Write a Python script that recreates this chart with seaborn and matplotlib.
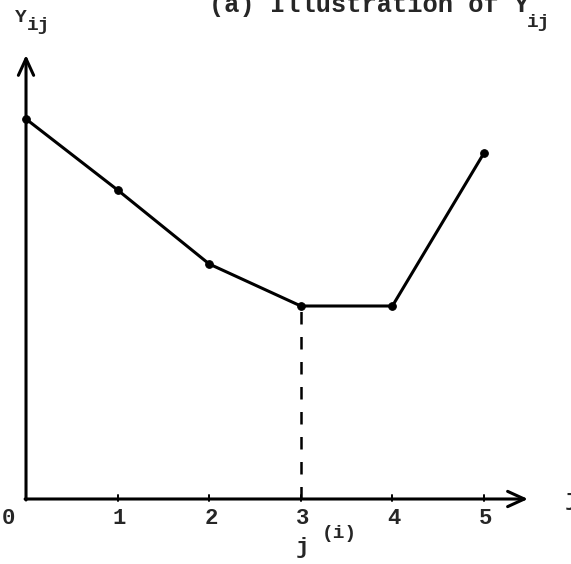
import matplotlib
matplotlib.use("Agg")
import matplotlib.pyplot as plt
import seaborn as sns
import pandas as pd

# Values of Y_ij over the index j
j_values = [0, 1, 2, 3, 4, 5]
y_values = [3.80, 3.09, 2.35, 1.93, 1.93, 3.46]
tick_labels = ["0", "1", "2", "3", "4", "5"]
j_star = 3  # index where the minimum is first attained

sns.set_style("white")
plt.rcParams["font.family"] = ["Liberation Mono", "DejaVu Sans Mono"]
plt.rcParams["font.weight"] = "bold"

fig = plt.figure(figsize=(5.71, 5.64), dpi=100)
ax = fig.add_axes([0, 0, 1, 1])
ax.set_xlim(-0.284, 5.95)
ax.set_ylim(-0.65, 4.99)
ax.axis("off")

df = pd.DataFrame({"j": j_values, "Y": y_values})
sns.lineplot(data=df, x="j", y="Y", ax=ax, color="black", linewidth=2.2,
             marker="o", markersize=5.5, markeredgecolor="black", zorder=3)

# axes drawn as arrows
arrow = dict(arrowstyle="->,head_length=1.2,head_width=0.55", color="black", lw=2.2,
             shrinkA=0, shrinkB=0)
ax.annotate("", xy=(0, 4.44), xytext=(0, -0.01), arrowprops=arrow)
ax.annotate("", xy=(5.48, 0), xytext=(-0.01, 0), arrowprops=arrow)

# tick marks and labels on the j axis
for xv, lab in zip(j_values, tick_labels):
    if xv > 0:
        ax.plot([xv, xv], [-0.02, 0.04], color="black", lw=1.4)
    dx = -0.19 if xv == 0 else 0.02
    ax.text(xv + dx, -0.20, lab, ha="center", va="center", fontsize=16,
            fontweight="bold")

# dashed drop line at j(i)
ax.plot([j_star, j_star], [0, y_values[j_star]], color="black", lw=1.8,
        linestyle=(0, (5, 5)))
ax.text(j_star + 0.02, -0.48, "j", ha="center", va="center", fontsize=16,
        fontweight="bold")
ax.text(j_star + 0.42, -0.34, "(i)", ha="center", va="center", fontsize=14,
        fontweight="bold")

# axis names
ax.text(-0.06, 4.82, "Y", ha="center", va="center", fontsize=14, fontweight="bold")
ax.text(0.14, 4.73, "ij", ha="center", va="center", fontsize=14, fontweight="bold")
ax.text(5.88, 0.0, "j", ha="left", va="center", fontsize=16, fontweight="bold")

# title
ax.text(2.00, 4.87, "(a) Illustration of Y", ha="left", va="baseline",
        fontsize=18.3, fontweight="bold")
ax.text(5.47, 4.72, "ij", ha="left", va="baseline", fontsize=14, fontweight="bold")

fig.savefig("out.png", dpi=100)
